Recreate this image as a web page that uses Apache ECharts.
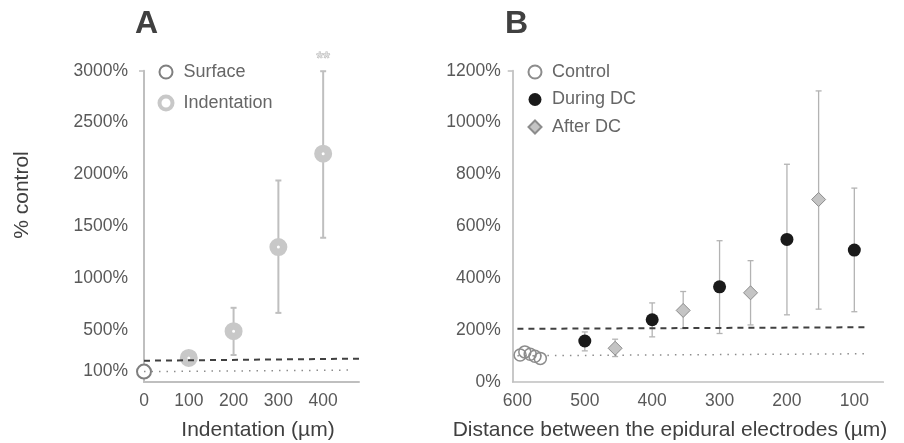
<!DOCTYPE html>
<html>
<head>
<meta charset="utf-8">
<script src="https://cdn.jsdelivr.net/npm/echarts@6/dist/echarts.min.js"></script>
<style>
  html, body { margin: 0; padding: 0; background: #fff; }
  #chart { width: 904px; height: 443px; }
</style>
</head>
<body>
<div id="chart"></div>
<script>
// ---- panel A: indentation depth ----
var surfaceA = [[0, 100]];
var indentA = [[100, 232], [200, 490], [300, 1300], [400, 2200]];
var indentErrA = [[200, 260, 715], [300, 666, 1942], [400, 1390, 2995]];
var dashA = [[0, 205], [480, 225]];
var dotA = [[0, 100], [465, 115]];
var starsA = [[400, 2995]];
var yTicksA = [100, 500, 1000, 1500, 2000, 2500, 3000];
var xTicksA = [0, 100, 200, 300, 400];

// ---- panel B: electrode distance ----
var controlB = [[596, 103], [589, 115], [581, 106], [574, 98], [566, 90]];
var duringB = [[500, 157], [400, 239], [300, 366], [200, 549], [100, 508]];
var duringErrB = [[500, 119, 192], [400, 173, 304], [300, 186, 544], [200, 258, 839], [100, 270, 747]];
var afterB = [[455, 129], [354, 275], [254, 343], [153, 703]];
var afterErrB = [[455, 97, 164], [354, 205, 348], [254, 219, 467], [153, 280, 1122]];
var dashB = [[600, 204], [85, 210]];
var dotB = [[600, 100], [77, 108]];
var xTicksB = [600, 500, 400, 300, 200, 100];

var font = 'Liberation Sans, Arial, sans-serif';

function errorBar(color, width, cap) {
  return function (params, api) {
    var x = api.value(0);
    var lo = api.coord([x, api.value(1)]);
    var hi = api.coord([x, api.value(2)]);
    var st = { stroke: color, lineWidth: width };
    return {
      type: 'group',
      children: [
        { type: 'line', shape: { x1: lo[0], y1: lo[1], x2: hi[0], y2: hi[1] }, style: st },
        { type: 'line', shape: { x1: lo[0] - cap, y1: lo[1], x2: lo[0] + cap, y2: lo[1] }, style: st },
        { type: 'line', shape: { x1: hi[0] - cap, y1: hi[1], x2: hi[0] + cap, y2: hi[1] }, style: st }
      ]
    };
  };
}

function pct(v) { return v + '%'; }

var axisText = { color: '#595959', fontSize: 17.5, fontFamily: font };

var chart = echarts.init(document.getElementById('chart'));
chart.setOption({
  animation: false,
  backgroundColor: '#fff',
  textStyle: { fontFamily: font },
  grid: [
    { left: 144, top: 70.7, width: 215, height: 311.3 },
    { left: 512.7, top: 70.7, width: 370.6, height: 311 }
  ],
  xAxis: [
    {
      gridIndex: 0, type: 'value', min: 0, max: 480,
      axisLine: { lineStyle: { color: '#bfbfbf', width: 2 } },
      axisTick: { show: false }, splitLine: { show: false },
      axisLabel: Object.assign({ customValues: xTicksA, margin: 10 }, axisText)
    },
    {
      gridIndex: 1, type: 'value', min: 57, max: 607, inverse: true,
      axisLine: { lineStyle: { color: '#bfbfbf', width: 1.7 } },
      axisTick: { show: false }, splitLine: { show: false },
      axisLabel: Object.assign({ customValues: xTicksB, margin: 10 }, axisText)
    }
  ],
  yAxis: [
    {
      gridIndex: 0, type: 'value', min: 0, max: 3000,
      axisLine: { show: true, lineStyle: { color: '#bfbfbf', width: 2 } },
      axisTick: { show: true, customValues: [3000], length: 5, lineStyle: { color: '#bfbfbf', width: 1.5 } },
      splitLine: { show: false },
      axisLabel: Object.assign({ customValues: yTicksA, margin: 16, formatter: pct }, axisText)
    },
    {
      gridIndex: 1, type: 'value', min: 0, max: 1200, interval: 200,
      axisLine: { show: true, lineStyle: { color: '#bfbfbf', width: 1.7 } },
      axisTick: { show: true, customValues: [1200], length: 5, lineStyle: { color: '#bfbfbf', width: 1.5 } },
      splitLine: { show: false },
      axisLabel: Object.assign({ margin: 12, formatter: pct }, axisText)
    }
  ],
  legend: [
    {
      orient: 'vertical', left: 152.5, top: 58, itemWidth: 13, itemHeight: 13, itemGap: 13,
      selectedMode: false,
      data: ['Surface', { name: 'Indentation', itemStyle: { borderWidth: 4 } }],
      textStyle: { fontSize: 18, color: '#666', fontFamily: font, padding: [0, 0, 0, 6] }
    },
    {
      orient: 'vertical', left: 522.5, top: 58, itemWidth: 13, itemHeight: 13, itemGap: 9.5,
      selectedMode: false, data: ['Control', 'During DC', 'After DC'],
      textStyle: { fontSize: 18, color: '#666', fontFamily: font, padding: [0, 0, 0, 5.5] }
    }
  ],
  graphic: [
    { type: 'text', left: 135, top: 8, style: { text: 'A', font: 'bold 32px ' + font, fill: '#404040' } },
    { type: 'text', left: 505, top: 8, style: { text: 'B', font: 'bold 32px ' + font, fill: '#404040' } },
    { type: 'text', x: 22, y: 195, rotation: Math.PI / 2, style: { text: '% control', font: '21px ' + font, fill: '#404040', align: 'center', verticalAlign: 'middle' } },
    { type: 'text', x: 258, y: 430, style: { text: 'Indentation (µm)', font: '21px ' + font, fill: '#404040', align: 'center', verticalAlign: 'middle' } },
    { type: 'text', x: 670, y: 430, style: { text: 'Distance between the epidural electrodes (µm)', font: '21px ' + font, fill: '#404040', align: 'center', verticalAlign: 'middle' } }
  ],
  series: [
    // panel A
    { type: 'custom', xAxisIndex: 0, yAxisIndex: 0, renderItem: errorBar('#bfbfbf', 2, 3), data: indentErrA, z: 1 },
    {
      name: 'Surface', type: 'scatter', xAxisIndex: 0, yAxisIndex: 0, data: surfaceA,
      symbol: 'circle', symbolSize: 14,
      itemStyle: { color: '#fff', borderColor: '#7f7f7f', borderWidth: 2, opacity: 1 }, z: 2
    },
    {
      name: 'Indentation', type: 'scatter', xAxisIndex: 0, yAxisIndex: 0, data: indentA,
      symbol: 'circle', symbolSize: 10.5,
      itemStyle: { color: '#fff', borderColor: '#c8c8c8', borderWidth: 7.5, opacity: 1 }, z: 2
    },
    {
      type: 'scatter', xAxisIndex: 0, yAxisIndex: 0, data: starsA, symbolSize: 0, silent: true,
      label: { show: true, position: 'top', distance: 3, formatter: '**', fontSize: 17, color: '#ececec', textBorderColor: '#a6a6a6', textBorderWidth: 1 }
    },
    {
      type: 'line', xAxisIndex: 0, yAxisIndex: 0, data: dashA, symbol: 'none', z: 5,
      lineStyle: { color: '#404040', width: 2, type: [6, 5] }
    },
    {
      type: 'line', xAxisIndex: 0, yAxisIndex: 0, data: dotA, symbol: 'none', z: 5,
      lineStyle: { color: '#8c8c8c', width: 1.5, type: [1.5, 6] }
    },
    // panel B
    { type: 'custom', xAxisIndex: 1, yAxisIndex: 1, renderItem: errorBar('#b3b3b3', 1.3, 3), data: duringErrB, z: 1 },
    { type: 'custom', xAxisIndex: 1, yAxisIndex: 1, renderItem: errorBar('#b3b3b3', 1.3, 3), data: afterErrB, z: 1 },
    {
      name: 'Control', type: 'scatter', xAxisIndex: 1, yAxisIndex: 1, data: controlB,
      symbol: 'circle', symbolSize: 12,
      itemStyle: { color: 'rgba(255,255,255,0)', borderColor: '#8c8c8c', borderWidth: 1.5, opacity: 1 }, z: 2
    },
    {
      name: 'During DC', type: 'scatter', xAxisIndex: 1, yAxisIndex: 1, data: duringB,
      symbol: 'circle', symbolSize: 13, itemStyle: { color: '#1a1a1a', opacity: 1 }, z: 2
    },
    {
      name: 'After DC', type: 'scatter', xAxisIndex: 1, yAxisIndex: 1, data: afterB,
      symbol: 'diamond', symbolSize: 14,
      itemStyle: { color: '#c4c4c4', borderColor: '#8c8c8c', borderWidth: 1, opacity: 1 }, z: 2
    },
    {
      type: 'line', xAxisIndex: 1, yAxisIndex: 1, data: dashB, symbol: 'none', z: 5,
      lineStyle: { color: '#404040', width: 2, type: [6, 5] }
    },
    {
      type: 'line', xAxisIndex: 1, yAxisIndex: 1, data: dotB, symbol: 'none', z: 5,
      lineStyle: { color: '#8c8c8c', width: 1.5, type: [1.5, 6] }
    }
  ]
});
</script>
</body>
</html>
